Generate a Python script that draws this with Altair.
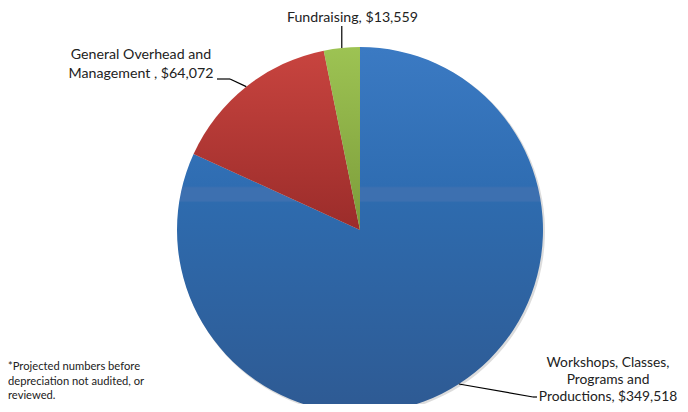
import altair as alt
import pandas as pd

# ---- data ----
categories = ["Workshops, Classes, Programs and Productions",
              "General Overhead and Management",
              "Fundraising"]
wrapped = ["Workshops, Classes,\nPrograms and\nProductions",
           "General Overhead and\nManagement ",
           "Fundraising"]
values = [349518, 64072, 13559]
order = [0, 1, 2]
footnote = "*Projected numbers before\ndepreciation not audited, or\nreviewed."

df = pd.DataFrame({"category": categories, "wrapped": wrapped,
                   "value": values, "order": order})

# ---- layout ----
CX, CY, R = 352, 222, 183
FONT = "Lato"

base = alt.Chart(df).transform_joinaggregate(
    total="sum(value)"
).transform_window(
    cum="sum(value)", sort=[alt.SortField("order", order="ascending")], frame=[None, 0]
).transform_calculate(
    start="(datum.cum - datum.value) / datum.total * 2 * PI",
    end="datum.cum / datum.total * 2 * PI",
).transform_calculate(
    mid="(datum.start + datum.end) / 2",
).transform_calculate(
    ex=f"{CX} + {R} * sin(datum.mid)",
    ey=f"{CY} - {R} * cos(datum.mid)",
    label="datum.wrapped + ', $' + format(datum.value, ',')",
)


def grad(stops):
    return alt.Gradient(
        gradient="linear", x1=0, x2=0, y1=0, y2=1,
        stops=[alt.GradientStop(color=c, offset=o) for o, c in stops],
    )


fills = {
    0: grad([(0, "#3B7AC3"), (0.38, "#2F6DB2"), (0.385, "#3D70B0"),
             (0.42, "#3D70B0"), (0.425, "#2E6BAE"), (1, "#2E5A93")]),
    1: grad([(0, "#C8443F"), (1, "#9B2C2A")]),
    2: grad([(0, "#9DC353"), (1, "#7C9C3A")]),
}

shadow = base.mark_arc(color="#8a8a8a", opacity=0.3).encode(
    theta=alt.Theta("start:Q", scale=None), theta2="end:Q",
    x=alt.value(CX + 1.5), y=alt.value(CY + 1.5), radius=alt.value(R + 0.5),
)

arcs = [
    base.transform_filter(f"datum.order == {i}").mark_arc(color=fills[i]).encode(
        theta=alt.Theta("start:Q", scale=None), theta2="end:Q",
        x=alt.value(CX), y=alt.value(CY), radius=alt.value(R),
    )
    for i in order
]

X = lambda f: alt.X(f, scale=None, axis=None)
Y = lambda f: alt.Y(f, scale=None, axis=None)

# leader lines (from slice mid-angle on the rim to the label)
lead_w = base.transform_filter("datum.order == 0").mark_rule(color="#000", strokeWidth=1.2).encode(
    x=X("ex:Q"), y=Y("ey:Q"), x2=alt.value(525), y2=alt.value(389))
stub_w = base.transform_filter("datum.order == 0").mark_rule(color="#000", strokeWidth=1.2).encode(
    x=alt.value(525), x2=alt.value(529), y=alt.value(389))
lead_g = base.transform_filter("datum.order == 1").mark_rule(color="#000", strokeWidth=1.2).encode(
    x=X("ex:Q"), y=Y("ey:Q"), x2=alt.value(222), y2=alt.value(71))
stub_g = base.transform_filter("datum.order == 1").mark_rule(color="#000", strokeWidth=1.2).encode(
    x=alt.value(209), x2=alt.value(222), y=alt.value(71))
lead_f = base.transform_filter("datum.order == 2").mark_rule(color="#000", strokeWidth=1.2).encode(
    x=X("ex:Q"), y=Y("ey:Q"), x2=alt.X2("ex:Q"), y2=alt.value(18))

txt = dict(font=FONT, fontSize=14.2, color="#222", lineBreak="\n",
           align="center", baseline="middle")
lab_w = base.transform_filter("datum.order == 0").mark_text(
    lineHeight=17, **{**txt, "fontSize": 13.8}).encode(
    x=alt.value(600), y=alt.value(355), text="label:N")
lab_g = base.transform_filter("datum.order == 1").mark_text(lineHeight=19, **txt).encode(
    x=alt.value(133), y=alt.value(47), text="label:N")
lab_f = base.transform_filter("datum.order == 2").mark_text(**txt).encode(
    x=alt.value(344.5), y=alt.value(10), text="label:N")

note = alt.Chart(pd.DataFrame({"t": [footnote]})).mark_text(
    font=FONT, fontSize=11.2, color="#222", lineBreak="\n", lineHeight=14.5,
    align="left", baseline="middle",
).encode(x=alt.value(0), y=alt.value(359), text="t:N")

chart = alt.layer(
    shadow, *arcs, lead_w, stub_w, lead_g, stub_g, lead_f, lab_w, lab_g, lab_f, note
).properties(
    width=672, height=396, padding=0, autosize="none", background="white"
).configure_view(stroke=None)

chart.save("out.html", embed_options={"renderer": "svg", "actions": False})
